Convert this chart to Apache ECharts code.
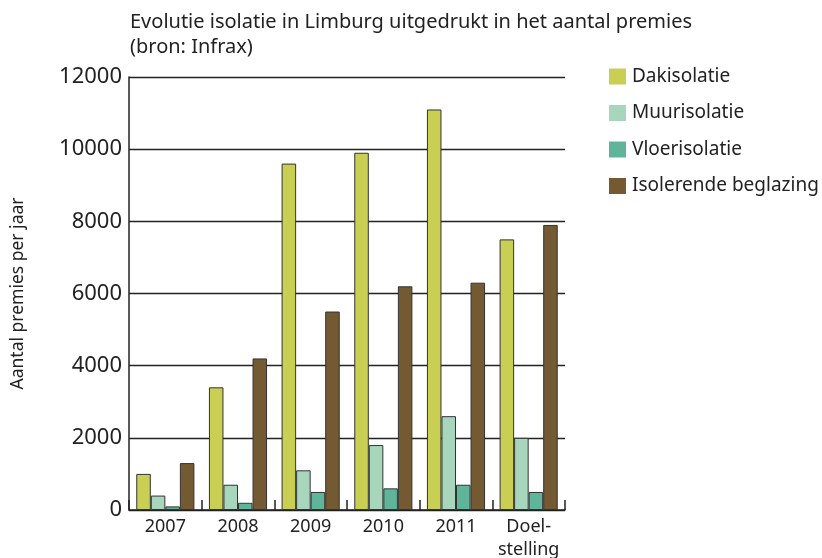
<!DOCTYPE html>
<html>
<head>
<meta charset="utf-8">
<script src="https://cdn.jsdelivr.net/npm/echarts@6/dist/echarts.min.js"></script>
<style>
  html, body { margin: 0; padding: 0; background: #fff; }
  #chart { width: 822px; height: 558px; }
</style>
</head>
<body>
<div id="chart"></div>
<script>
const categories = ['2007', '2008', '2009', '2010', '2011', 'Doel-\nstelling']
const dakisolatie = [1000, 3400, 9600, 9900, 11100, 7500]
const muurisolatie = [400, 700, 1100, 1800, 2600, 2000]
const vloerisolatie = [100, 200, 500, 600, 700, 500]
const beglazing = [1300, 4200, 5500, 6200, 6300, 7900]

const names = ['Dakisolatie', 'Muurisolatie', 'Vloerisolatie', 'Isolerende beglazing']
const colors = ['#c8cf52', '#a7d6bd', '#5fb49a', '#735a33']
const values = [dakisolatie, muurisolatie, vloerisolatie, beglazing]

const font = '"Noto Sans", sans-serif'

const chart = echarts.init(document.getElementById('chart'))

const series = names.map((name, i) => ({
  name,
  type: 'bar',
  data: values[i],
  barGap: '0%',
  barCategoryGap: '20%',
  itemStyle: { color: colors[i], borderColor: '#333', borderWidth: 1 }
}))

chart.setOption({
  animation: false,
  textStyle: { fontFamily: font },
  title: {
    text: 'Evolutie isolatie in Limburg uitgedrukt in het aantal premies\n(bron: Infrax)',
    left: 125,
    top: 5,
    textStyle: { fontFamily: font, fontSize: 20, fontWeight: 'normal', color: '#222', lineHeight: 25 }
  },
  legend: {
    orient: 'vertical',
    left: 604,
    top: 62,
    itemWidth: 17,
    itemHeight: 16,
    itemGap: 17.5,
    icon: 'rect',
    data: names,
    itemStyle: { borderWidth: 0 },
    textStyle: { fontFamily: font, fontSize: 19, color: '#222', padding: [0, 0, 0, 1] }
  },
  grid: { left: 129, right: 257, top: 77, bottom: 48, outerBoundsMode: 'none' },
  xAxis: {
    type: 'category',
    data: categories,
    axisLine: { show: true, lineStyle: { color: '#222', width: 1.5 } },
    axisTick: { show: true, inside: true, length: 10, interval: 0, lineStyle: { color: '#222', width: 1.5 } },
    axisLabel: { fontSize: 18, color: '#222', margin: 5, lineHeight: 23, interval: 0 }
  },
  yAxis: {
    type: 'value',
    min: 0,
    max: 12000,
    interval: 2000,
    name: 'Aantal premies per jaar',
    nameLocation: 'middle',
    nameRotate: 90,
    nameGap: 102,
    nameTextStyle: { fontFamily: font, fontSize: 17.5, color: '#222' },
    axisLine: { show: true, lineStyle: { color: '#222', width: 1.5 } },
    axisTick: { show: false },
    axisLabel: { fontSize: 22, color: '#222', margin: 7, formatter: v => String(v) },
    splitLine: { lineStyle: { color: '#222', width: 1.3 } }
  },
  series
})
</script>
</body>
</html>
